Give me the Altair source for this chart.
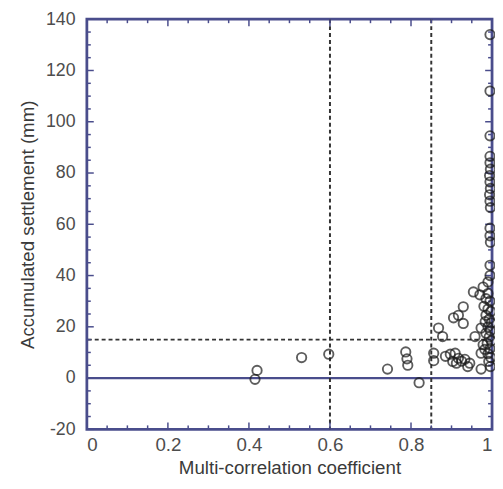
import altair as alt
import pandas as pd
import numpy as np

# Scatter data
corr = [0.415, 0.42, 0.53, 0.597, 0.742, 0.787, 0.79, 0.792, 0.82,
        0.856, 0.856, 0.868, 0.878, 0.885, 0.897, 0.903, 0.909, 0.912, 0.917,
        0.905, 0.917, 0.929, 0.929, 0.925, 0.933, 0.945, 0.94, 0.954, 0.958,
        0.97, 0.973, 0.973, 0.973, 0.978, 0.982,
        0.978, 0.985, 0.99, 0.995, 0.98, 0.99, 0.997, 0.985, 0.993, 0.998,
        0.983, 0.99, 0.996, 0.985, 0.993, 0.998, 0.988, 0.995, 0.99, 0.997,
        0.992, 0.996, 0.99, 0.995,
        0.995, 0.996, 0.995, 0.995, 0.996, 0.995, 0.994, 0.996, 0.995, 0.994,
        0.996, 0.995, 0.995, 0.995, 0.995, 0.995]
settle = [-0.5, 3.0, 8.0, 9.3, 3.5, 10.2, 7.5, 5.0, -1.8,
          9.7, 6.8, 19.5, 16.2, 8.5, 9.3, 6.5, 9.7, 5.8, 7.7,
          23.5, 24.5, 27.8, 21.3, 6.6, 7.3, 5.8, 4.5, 33.6, 16.2,
          32.5, 19.5, 9.7, 3.5, 13.0, 11.2,
          35.5, 31.0, 33.0, 30.0, 28.0, 27.0, 26.0, 24.5, 23.0, 21.5,
          22.0, 20.0, 18.5, 17.5, 16.0, 14.5, 13.5, 11.5, 9.5, 8.0,
          6.5, 4.5, 37.5, 40.0,
          44.0, 53.0, 55.5, 58.5, 66.5, 69.0, 71.5, 74.0, 76.5, 79.0,
          81.5, 84.0, 86.5, 94.5, 112.0, 134.0]

x_ticks = [0, 0.2, 0.4, 0.6, 0.8, 1.0]
y_ticks = [-20, 0, 20, 40, 60, 80, 100, 120, 140]
x_minor = [round(v, 2) for v in np.arange(0, 1.0001, 0.05)]
y_minor = list(range(-20, 141, 5))
v_dashed = [0.6, 0.85]
h_dashed = [15]
h_solid = [0]

W, H = 411, 416
BLUE = "#4a4d8c"

df = pd.DataFrame({"corr": corr, "settle": settle})

xs = alt.Scale(domain=[0, 1], nice=False, zero=False)
ys = alt.Scale(domain=[-20, 140], nice=False, zero=False)

xaxis = alt.Axis(values=x_ticks, labelExpr="datum.value + ''", grid=False, ticks=False,
                 domain=False, labelFontSize=19, labelColor="#4d4d4d", labelPadding=6,
                 labelFont="Liberation Sans", title="Multi-correlation coefficient",
                 titleFontSize=19, titleFont="Liberation Sans", titleColor="#3a3a3a",
                 titleFontWeight="normal", titlePadding=5)
yaxis = alt.Axis(values=y_ticks, labelExpr="datum.value + ''", grid=False, ticks=False,
                 domain=False, labelFontSize=18, labelColor="#4d4d4d", labelPadding=12,
                 labelFont="Liberation Sans", title="Accumulated settlement (mm)",
                 titleFontSize=19, titleFont="Liberation Sans", titleColor="#3a3a3a",
                 titleFontWeight="normal", titlePadding=8)

points = alt.Chart(df).mark_point(shape="circle", filled=False, size=90,
                                  strokeWidth=1.9, color="#1a1a1a").encode(
    x=alt.X("corr:Q", scale=xs, axis=xaxis),
    y=alt.Y("settle:Q", scale=ys, axis=yaxis),
)

zero_line = alt.Chart(pd.DataFrame({"y": h_solid})).mark_rule(
    color=BLUE, strokeWidth=2.4).encode(y=alt.Y("y:Q", scale=ys))
vdash = alt.Chart(pd.DataFrame({"x": v_dashed})).mark_rule(
    color="#333333", strokeWidth=2, strokeDash=[4, 3]).encode(x=alt.X("x:Q", scale=xs))
hdash = alt.Chart(pd.DataFrame({"y": h_dashed})).mark_rule(
    color="#333333", strokeWidth=2, strokeDash=[4, 3]).encode(y=alt.Y("y:Q", scale=ys))

xt = pd.DataFrame({"x": x_minor})
xt["len"] = [7 if abs(v * 5 - round(v * 5)) < 1e-6 else 4 for v in x_minor]
yt = pd.DataFrame({"y": y_minor})
yt["len"] = [7 if v % 20 == 0 else 4 for v in y_minor]

def tick_layer(data, major, side):
    d = data[data["len"] == (7 if major else 4)]
    L = 7 if major else 4
    base = alt.Chart(d).mark_rule(color=BLUE, strokeWidth=1.5)
    if side == "bottom":
        return base.encode(x=alt.X("x:Q", scale=xs), y=alt.value(H), y2=alt.value(H - L))
    if side == "top":
        return base.encode(x=alt.X("x:Q", scale=xs), y=alt.value(0), y2=alt.value(L))
    if side == "left":
        return base.encode(y=alt.Y("y:Q", scale=ys), x=alt.value(0), x2=alt.value(L))
    return base.encode(y=alt.Y("y:Q", scale=ys), x=alt.value(W - L), x2=alt.value(W))

ticks = []
for major in (True, False):
    for side in ("bottom", "top"):
        ticks.append(tick_layer(xt, major, side))
    for side in ("left", "right"):
        ticks.append(tick_layer(yt, major, side))

chart = alt.layer(zero_line, vdash, hdash, *ticks, points).properties(
    width=W, height=H,
    autosize=alt.AutoSizeParams(type="none"),
    padding={"left": 80, "top": 8, "right": 3, "bottom": 48},
    background="white",
).configure_view(stroke=BLUE, strokeWidth=2.8)

chart.save("out.html", embed_options={"renderer": "svg", "actions": False})
